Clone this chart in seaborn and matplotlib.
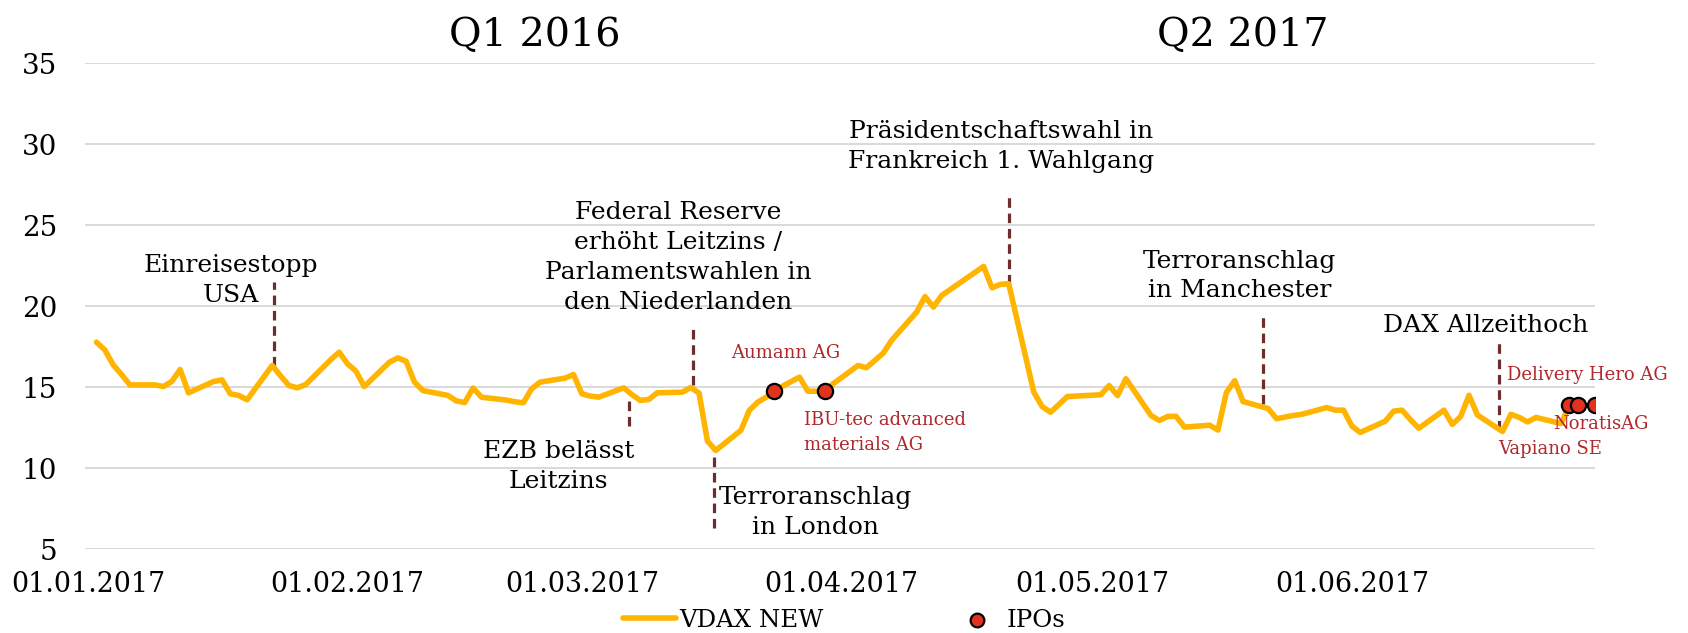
import pandas as pd
import matplotlib.pyplot as plt
import matplotlib.dates as mdates
import seaborn as sns

# VDAX NEW, Handelstage H1 2017
dates = ["2017-01-02", "2017-01-03", "2017-01-04", "2017-01-05", "2017-01-06",
         "2017-01-09", "2017-01-10", "2017-01-11", "2017-01-12", "2017-01-13",
         "2017-01-16", "2017-01-17", "2017-01-18", "2017-01-19", "2017-01-20",
         "2017-01-23", "2017-01-24", "2017-01-25", "2017-01-26", "2017-01-27",
         "2017-01-30", "2017-01-31", "2017-02-01", "2017-02-02", "2017-02-03",
         "2017-02-06", "2017-02-07", "2017-02-08", "2017-02-09", "2017-02-10",
         "2017-02-13", "2017-02-14", "2017-02-15", "2017-02-16", "2017-02-17",
         "2017-02-20", "2017-02-21", "2017-02-22", "2017-02-23", "2017-02-24",
         "2017-02-27", "2017-02-28", "2017-03-01", "2017-03-02", "2017-03-03",
         "2017-03-06", "2017-03-07", "2017-03-08", "2017-03-09", "2017-03-10",
         "2017-03-13", "2017-03-14", "2017-03-15", "2017-03-16", "2017-03-17",
         "2017-03-20", "2017-03-21", "2017-03-22", "2017-03-23", "2017-03-24",
         "2017-03-27", "2017-03-28", "2017-03-29", "2017-03-30", "2017-03-31",
         "2017-04-03", "2017-04-04", "2017-04-05", "2017-04-06", "2017-04-07",
         "2017-04-10", "2017-04-11", "2017-04-12", "2017-04-13",
         "2017-04-18", "2017-04-19", "2017-04-20", "2017-04-21",
         "2017-04-24", "2017-04-25", "2017-04-26", "2017-04-27", "2017-04-28",
         "2017-05-02", "2017-05-03", "2017-05-04", "2017-05-05",
         "2017-05-08", "2017-05-09", "2017-05-10", "2017-05-11", "2017-05-12",
         "2017-05-15", "2017-05-16", "2017-05-17", "2017-05-18", "2017-05-19",
         "2017-05-22", "2017-05-23", "2017-05-24", "2017-05-25", "2017-05-26",
         "2017-05-29", "2017-05-30", "2017-05-31", "2017-06-01", "2017-06-02",
         "2017-06-05", "2017-06-06", "2017-06-07", "2017-06-08", "2017-06-09",
         "2017-06-12", "2017-06-13", "2017-06-14", "2017-06-15", "2017-06-16",
         "2017-06-19", "2017-06-20", "2017-06-21", "2017-06-22", "2017-06-23",
         "2017-06-26", "2017-06-27"]
vdax = [17.78, 17.3, 16.38, 15.78, 15.14,
        15.14, 15.04, 15.35, 16.09, 14.65,
        15.35, 15.45, 14.59, 14.49, 14.22,
        16.34, 15.7, 15.1, 14.96, 15.16,
        16.7, 17.16, 16.44, 15.99, 15.04,
        16.54, 16.81, 16.6, 15.31, 14.79,
        14.49, 14.15, 14.05, 14.95, 14.38,
        14.2, 14.1, 14.03, 14.9, 15.31,
        15.56, 15.78, 14.59, 14.45, 14.38,
        14.96, 14.53, 14.18, 14.24, 14.65,
        14.69, 14.98, 14.63, 11.67, 11.09,
        12.33, 13.56, 14.07, 14.38, 14.79,
        15.62, 14.75, 14.75, 14.79, 15.2,
        16.34, 16.2, 16.65, 17.1, 17.89,
        19.64, 20.6, 19.95, 20.67,
        22.46, 21.14, 21.35, 21.39,
        14.69, 13.8, 13.45, 13.93, 14.42,
        14.53, 15.1, 14.48, 15.52,
        13.25, 12.94, 13.19, 13.2, 12.53,
        12.65, 12.35, 14.66, 15.4, 14.11,
        13.68, 13.05, 13.15, 13.25, 13.32,
        13.74, 13.58, 13.58, 12.6, 12.2,
        12.9, 13.52, 13.58, 12.99, 12.46,
        13.58, 12.7, 13.19, 14.5, 13.28,
        12.26, 13.32, 13.13, 12.85, 13.13,
        12.75, 13.9]

# IPOs
ipo_names = ["Aumann AG", "IBU-tec advanced\nmaterials AG", "Vapiano SE", "Delivery Hero AG", "NoratisAG"]
ipo_dates = ["2017-03-24", "2017-03-30", "2017-06-27", "2017-06-28", "2017-06-30"]
ipo_values = [14.79, 14.79, 13.9, 13.9, 13.9]

# Ereignisse: Text, Linie (Tage ab 01.01.), Linie von/bis, Textposition (Tage, Wert)
event_texts = ["Einreisestopp\nUSA",
               "EZB belässt\nLeitzins",
               "Federal Reserve\nerhöht Leitzins /\nParlamentswahlen in\nden Niederlanden",
               "Terroranschlag\nin London",
               "Präsidentschaftswahl in\nFrankreich 1. Wahlgang",
               "Terroranschlag\nin Manchester",
               "DAX Allzeithoch"]
event_line_day = [22.26, 64.6, 72.3, 74.8, 110.0, 140.4, 168.6]
event_line_y = [(16.3, 21.5), (12.6, 14.45), (15.15, 18.85), (6.3, 11.1),
                (21.4, 27.0), (13.95, 19.4), (12.35, 17.8)]
event_text_pos = [(17.1, 21.57), (56.2, 10.12), (70.5, 23.0), (86.9, 7.23),
                  (109.1, 29.86), (137.6, 21.87), (167.0, 18.79)]

ipo_text_pos = [(83.4, 17.13, "center"), (85.5, 12.2, "left"), (174.7, 11.15, "center"),
                (179.1, 15.75, "center"), (180.8, 12.75, "center")]

df = pd.DataFrame({"Datum": pd.to_datetime(dates), "VDAX NEW": vdax})
ipo = pd.DataFrame({"Datum": pd.to_datetime(ipo_dates), "Wert": ipo_values})

sns.set_theme(style="white")
plt.rcParams["font.family"] = ["DejaVu Serif"]
plt.rcParams["text.color"] = "black"
plt.rcParams["xtick.color"] = "black"
plt.rcParams["ytick.color"] = "black"

start = pd.Timestamp("2017-01-01")
def day(d):
    return start + pd.Timedelta(days=d)

fig = plt.figure(figsize=(16.88, 6.33), dpi=100)
ax = fig.add_axes([0.0504, 0.1327, 0.8945, 0.767])

gelb = "#FFB400"
rot = "#E0321E"
braun = "#6E2C2C"
textrot = "#B0282C"

sns.lineplot(data=df, x="Datum", y="VDAX NEW", ax=ax, color=gelb, linewidth=4.0,
             label="VDAX NEW", zorder=3)
sns.scatterplot(data=ipo, x="Datum", y="Wert", ax=ax, color=rot, edgecolor="black",
                linewidth=1.6, s=120, zorder=5, label="IPOs")

# Ereignislinien und Beschriftungen
for txt, d, (y0, y1), (tx, ty) in zip(event_texts, event_line_day, event_line_y, event_text_pos):
    ax.plot([day(d), day(d)], [y0, y1], color=braun, linewidth=2.3,
            linestyle=(0, (3, 1.8)), zorder=2)
    ax.text(day(tx), ty, txt, ha="center", va="center", fontsize=18,
            color="black", linespacing=1.38)

for name, (tx, ty, ha) in zip(ipo_names, ipo_text_pos):
    ax.text(day(tx), ty, name, ha=ha, va="center", fontsize=13, color=textrot,
            linespacing=1.5, clip_on=False)

# Quartalsüberschriften
ax.text(day(53.4), 36.7, "Q1 2016", ha="center", va="center", fontsize=28.5)
ax.text(day(138.0), 36.7, "Q2 2017", ha="center", va="center", fontsize=28.5)

# Achsen
ax.set_ylim(5, 35)
ax.set_yticks(range(5, 36, 5))
ax.set_xlim(day(-0.36), day(180.05))
ax.set_xticks(pd.date_range("2017-01-01", "2017-06-01", freq="MS"))
ax.xaxis.set_major_formatter(mdates.DateFormatter("%d.%m.%Y"))
ax.set_xlabel("")
ax.set_ylabel("")
ax.grid(axis="y", color="#D9D9D9", linewidth=1.4)
ax.set_axisbelow(True)
sns.despine(ax=ax, left=True, bottom=True)
ax.tick_params(axis="y", length=0, pad=20, labelsize=20)
ax.tick_params(axis="x", length=0, pad=16, labelsize=19.4)

ax.legend(loc="lower center", bbox_to_anchor=(0.5, 0.002), bbox_transform=fig.transFigure,
          ncol=2, frameon=False, fontsize=17.6, handlelength=2.2, columnspacing=5.2,
          handletextpad=0.1, borderpad=0.0, borderaxespad=0.0, markerscale=0.9)

fig.savefig("out.png", dpi=100)
